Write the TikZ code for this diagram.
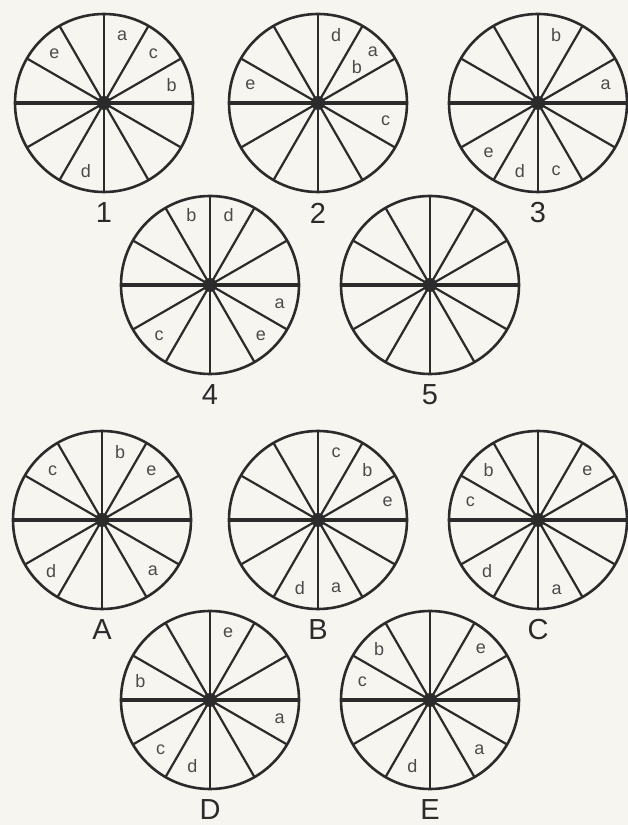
\documentclass[tikz,border=0pt]{standalone}
\usepackage{fontspec}
\setsansfont{Liberation Sans}
\usepackage{tikz}
\usetikzlibrary{calc}

\definecolor{ink}{HTML}{2B2B2B}
\definecolor{paper}{HTML}{F7F5F0}
\tikzset{
  rim/.style={draw=ink,line width=2.6pt},
  spoke/.style={draw=ink,line width=2.2pt},
  hub/.style={circle,fill=ink,inner sep=0pt,minimum size=14pt},
  letter/.style={font=\sffamily\fontsize{18}{18}\selectfont,text=ink!85,inner sep=0pt},
  tag/.style={font=\sffamily\fontsize{29}{29}\selectfont,text=ink,inner sep=0pt},
}

\begin{document}
\begin{tikzpicture}[x=1pt,y=1pt]
  \fill[paper] (0,0) rectangle (628,825);
  \useasboundingbox (0,0) rectangle (628,825);
  % the ten wheels: name/x/y/caption
  \foreach \w/\x/\y/\t in {w1/104/722/1, w2/318/722/2, w3/538/722/3,
                           w4/210/540/4, w5/430/540/5,
                           wA/102/305/A, wB/318/305/B, wC/538/305/C,
                           wD/210/125/D, wE/430/125/E} {
    \coordinate (\w) at (\x,\y);
    \draw[rim] (\w) circle (89);
    \foreach \a/\lw in {0/3.4,30/2.2,60/2.2,90/2.8,120/2.2,150/2.2}
      \draw[spoke,line width=\lw pt] ($(\w)+(\a:89)$) -- ($(\w)+(\a+180:89)$);
    \node[hub] (\w-hub) at (\w) {};
    \node[tag] (\w-tag) at ($(\w)+(0,-110)$) {\t};
  }
  % letters in the sectors: wheel/angle/radius/letter
  \foreach \w/\a/\r/\t in {w1/75/70/a, w1/45/70/c, w1/15/70/b, w1/135/70/e, w1/255/70/d,
                           w2/75/70/d, w2/43/75/a, w2/43/53/b, w2/165/70/e, w2/345/70/c,
                           w3/75/70/b, w3/15/70/a, w3/225/70/e, w3/255/70/d, w3/285/70/c,
                           w4/105/72/b, w4/75/72/d, w4/345/72/a, w4/315/72/e, w4/225/72/c,
                           wA/75/70/b, wA/45/70/e, wA/135/70/c, wA/225/72/d, wA/315/72/a,
                           wB/75/70/c, wB/45/70/b, wB/15/72/e, wB/255/70/d, wB/285/70/a,
                           wC/135/70/b, wC/165/70/c, wC/45/70/e, wC/225/72/d, wC/285/72/a,
                           wD/75/70/e, wD/165/72/b, wD/345/72/a, wD/225/70/c, wD/255/68/d,
                           wE/135/72/b, wE/165/70/c, wE/45/72/e, wE/315/70/a, wE/255/68/d}
    \node[letter] (\w-\t) at ($(\w)+(\a:\r)$) {\t};
\end{tikzpicture}
\end{document}
